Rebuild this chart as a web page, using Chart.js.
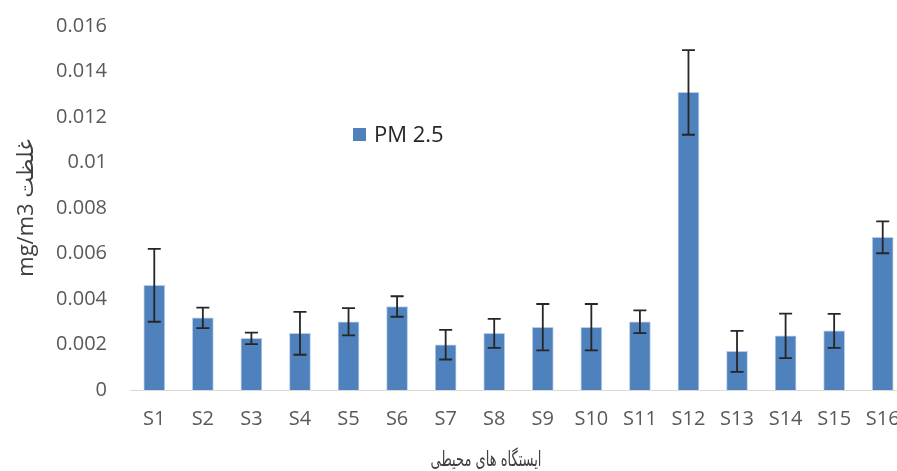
<!DOCTYPE html>
<html>
<head>
<meta charset="utf-8">
<script src="https://cdn.jsdelivr.net/npm/chart.js@4/dist/chart.umd.min.js"></script>
<style>
  html, body { margin: 0; padding: 0; background: #fff; overflow: hidden; }
  #wrap { position: relative; width: 907px; height: 471px; }
  #legend { position: absolute; left: 353px; top: 118px; font: 22px "Open Sans", sans-serif; color: #262626; white-space: nowrap; }
  #legend span.box { display: inline-block; width: 13px; height: 13px; margin-right: 8px; vertical-align: 1px; }
  #xtitle { position: absolute; left: 386px; width: 200px; top: 447px; text-align: center; font: 21px "DejaVu Sans", sans-serif; color: #404040; direction: rtl; white-space: nowrap; transform: scaleX(0.62); }
</style>
</head>
<body>
<div id="wrap">
  <canvas id="chart"></canvas>
  <div id="legend"></div>
  <div id="xtitle"></div>
</div>
<script>
var stations = ['S1','S2','S3','S4','S5','S6','S7','S8','S9','S10','S11','S12','S13','S14','S15','S16'];
var pm25 = [0.0046, 0.00317, 0.00227, 0.00249, 0.0030, 0.00367, 0.00199, 0.00249, 0.00276, 0.00276, 0.0030, 0.01308, 0.0017, 0.00238, 0.0026, 0.00671];
var pm25_err = [0.0016, 0.00045, 0.00025, 0.00094, 0.0006, 0.00045, 0.00065, 0.00064, 0.00102, 0.00102, 0.0005, 0.00186, 0.0009, 0.00098, 0.00075, 0.0007];
var yTicks = [0, 0.002, 0.004, 0.006, 0.008, 0.01, 0.012, 0.014, 0.016];
var seriesName = 'PM 2.5';
var xTitle = 'ایستگاه های محیطی';
var yTitle = 'mg/m3 غلظت';
var barColor = '#4f81bd';

var errorBars = {
    id: 'errorBars',
    afterDatasetsDraw: function(chart) {
        var ctx = chart.ctx;
        var y = chart.scales.y;
        var meta = chart.getDatasetMeta(0);
        ctx.save();
        ctx.strokeStyle = '#262626';
        ctx.lineWidth = 1.8;
        meta.data.forEach(function(bar, i) {
            var top = y.getPixelForValue(pm25[i] + pm25_err[i]);
            var bottom = y.getPixelForValue(pm25[i] - pm25_err[i]);
            ctx.beginPath();
            ctx.moveTo(bar.x, top);
            ctx.lineTo(bar.x, bottom);
            ctx.moveTo(bar.x - 6.5, top);
            ctx.lineTo(bar.x + 6.5, top);
            ctx.moveTo(bar.x - 6.5, bottom);
            ctx.lineTo(bar.x + 6.5, bottom);
            ctx.stroke();
        });
        ctx.restore();
    }
};

var tickFont = { family: '"Open Sans", sans-serif', size: 20 };

new Chart(document.getElementById('chart'), {
    type: 'bar',
    data: {
        labels: stations,
        datasets: [{
            label: seriesName,
            data: pm25,
            backgroundColor: barColor,
            borderColor: '#b9cde8',
            borderWidth: 1,
            barThickness: 21
        }]
    },
    options: {
        responsive: true,
        maintainAspectRatio: false,
        animation: false,
        layout: { padding: { top: 26, right: 0, bottom: 0, left: 0 } },
        plugins: { legend: { display: false }, tooltip: { enabled: false } },
        scales: {
            x: {
                grid: { display: false, drawTicks: false },
                border: { display: true, color: '#d9d9d9', width: 1 },
                ticks: { color: '#595959', font: tickFont, padding: 17, maxRotation: 0 },
                afterFit: function(scale) {
                    scale.height = 81;
                    scale.paddingLeft = 0;
                    scale.paddingRight = 0;
                }
            },
            y: {
                min: 0,
                max: 0.016,
                afterBuildTicks: function(scale) {
                    scale.ticks = yTicks.map(function(v) { return { value: v }; });
                },
                grid: { display: false, drawTicks: false },
                border: { display: false },
                ticks: {
                    color: '#595959',
                    font: tickFont,
                    padding: 23,
                    callback: function(v) { return String(+v.toFixed(3)); }
                },
                title: {
                    display: true,
                    text: yTitle,
                    color: '#404040',
                    font: { family: '"Open Sans", "DejaVu Sans", sans-serif', size: 22 },
                    padding: { top: 14, bottom: 0 }
                },
                afterFit: function(scale) {
                    scale.width = 130;
                    scale.paddingTop = 0;
                    scale.paddingBottom = 0;
                }
            }
        }
    },
    plugins: [errorBars]
});

document.getElementById('legend').innerHTML = '<span class="box" style="background:' + barColor + '"></span>' + seriesName;
document.getElementById('xtitle').textContent = xTitle;
</script>
</body>
</html>
